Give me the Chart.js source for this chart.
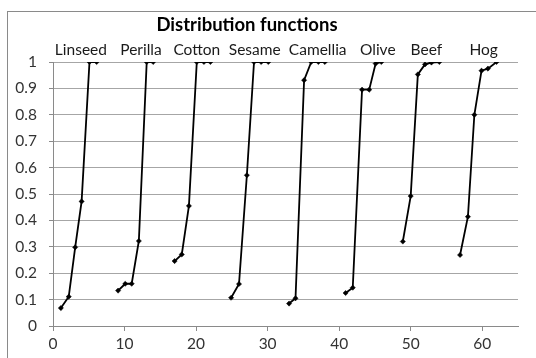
<!DOCTYPE html>
<html>
<head>
<meta charset="utf-8">
<script src="https://cdn.jsdelivr.net/npm/chart.js@4/dist/chart.umd.min.js"></script>
<style>
  html, body { margin: 0; padding: 0; background: #fff; }
  #wrap { width: 536px; height: 358px; position: relative; }
</style>
</head>
<body>
<div id="wrap"><canvas id="c" width="536" height="358"></canvas></div>
<script>
// ---- data ----
const chartTitle = "Distribution functions";
const seriesNames = ["Linseed", "Perilla", "Cotton", "Sesame", "Camellia", "Olive", "Beef", "Hog"];
const seriesLabelX = [3.9, 12.3, 20.1, 28.2, 37.0, 45.4, 52.2, 60.2];
const seriesLabelY = 1.044;

const linseedX  = [1.1, 2.2, 3.1, 4.0, 5.1, 6.1];
const linseedY  = [0.068, 0.111, 0.298, 0.472, 1.0, 1.0];
const perillaX  = [9.1, 10.1, 11.0, 12.0, 13.1, 14.0];
const perillaY  = [0.134, 0.160, 0.160, 0.322, 1.0, 1.0];
const cottonX   = [17.0, 18.0, 19.0, 20.1, 21.1, 22.0];
const cottonY   = [0.246, 0.271, 0.455, 1.0, 1.0, 1.0];
const sesameX   = [24.9, 26.0, 27.1, 28.1, 29.1, 30.1];
const sesameY   = [0.107, 0.159, 0.571, 1.0, 1.0, 1.0];
const camelliaX = [33.0, 33.9, 35.1, 36.1, 37.1, 38.0];
const camelliaY = [0.085, 0.105, 0.931, 1.0, 1.0, 1.0];
const oliveX    = [40.9, 41.9, 43.2, 44.2, 45.1, 45.9];
const oliveY    = [0.125, 0.145, 0.895, 0.895, 0.994, 1.0];
const beefX     = [48.9, 50.0, 51.0, 52.0, 52.9, 54.0];
const beefY     = [0.320, 0.492, 0.953, 0.991, 0.998, 1.0];
const hogX      = [56.9, 58.0, 58.9, 59.9, 60.8, 62.0];
const hogY      = [0.269, 0.414, 0.800, 0.967, 0.975, 1.0];

const xTickValues = [0, 10, 20, 30, 40, 50, 60];
const yTickMin = 0, yTickMax = 1, yTickStep = 0.1;
const xAxisMax = 65;

const seriesXs = [linseedX, perillaX, cottonX, sesameX, camelliaX, oliveX, beefX, hogX];
const seriesYs = [linseedY, perillaY, cottonY, sesameY, camelliaY, oliveY, beefY, hogY];

const FONT = "Lato, 'Open Sans', sans-serif";

const datasets = seriesNames.map((name, i) => ({
  label: name,
  data: seriesXs[i].map((x, j) => ({ x: x, y: seriesYs[i][j] })),
  showLine: true,
  borderColor: '#000',
  backgroundColor: '#000',
  borderWidth: 1.8,
  pointRadius: 2.6,
  pointStyle: 'rectRot',
  pointBorderWidth: 0.5,
  tension: 0
}));

const decorPlugin = {
  id: 'decor',
  beforeDraw(chart) {
    const ctx = chart.ctx;
    ctx.save();
    ctx.fillStyle = '#fff';
    ctx.fillRect(0, 0, chart.width, chart.height);
    ctx.strokeStyle = '#8a8a8a';
    ctx.lineWidth = 1;
    ctx.strokeRect(7.5, 11.5, 700, 700);
    ctx.restore();
  },
  afterDraw(chart) {
    const ctx = chart.ctx;
    const xs = chart.scales.x, ys = chart.scales.y;
    ctx.save();
    ctx.fillStyle = '#000';
    ctx.textAlign = 'center';
    ctx.textBaseline = 'middle';
    ctx.font = "bold 18.5px " + FONT;
    ctx.fillText(chartTitle, 247, 25);
    ctx.font = "15.5px " + FONT;
    ctx.fillStyle = '#1a1a1a';
    seriesNames.forEach((n, i) => {
      ctx.fillText(n, xs.getPixelForValue(seriesLabelX[i]), ys.getPixelForValue(seriesLabelY));
    });
    ctx.restore();
  }
};

new Chart(document.getElementById('c'), {
  type: 'scatter',
  data: { datasets },
  plugins: [decorPlugin],
  options: {
    responsive: false,
    animation: false,
    devicePixelRatio: 1,
    layout: { padding: { top: 62, right: 18, bottom: 0, left: 0 } },
    plugins: { legend: { display: false }, tooltip: { enabled: false }, title: { display: false } },
    scales: {
      x: {
        type: 'linear',
        min: 0,
        max: xAxisMax,
        afterBuildTicks(scale) { scale.ticks = xTickValues.map(v => ({ value: v })); },
        afterFit(scale) { scale.height = 32; },
        grid: { drawOnChartArea: false, drawTicks: true, tickLength: 5, color: '#8a8a8a', tickColor: '#8a8a8a' },
        border: { color: '#8a8a8a', width: 1 },
        ticks: { font: { family: FONT, size: 15.5 }, color: '#333', padding: 4, maxRotation: 0 }
      },
      y: {
        type: 'linear',
        min: yTickMin,
        max: yTickMax,
        afterFit(scale) { scale.width = 53; },
        grid: { color: '#a6a6a6', tickLength: 4, tickColor: '#8a8a8a' },
        border: { color: '#8a8a8a', width: 1 },
        ticks: {
          stepSize: yTickStep,
          font: { family: FONT, size: 15.5 },
          color: '#333',
          padding: 12,
          callback: v => String(Number(v.toFixed(1)))
        }
      }
    }
  }
});
</script>
</body>
</html>
